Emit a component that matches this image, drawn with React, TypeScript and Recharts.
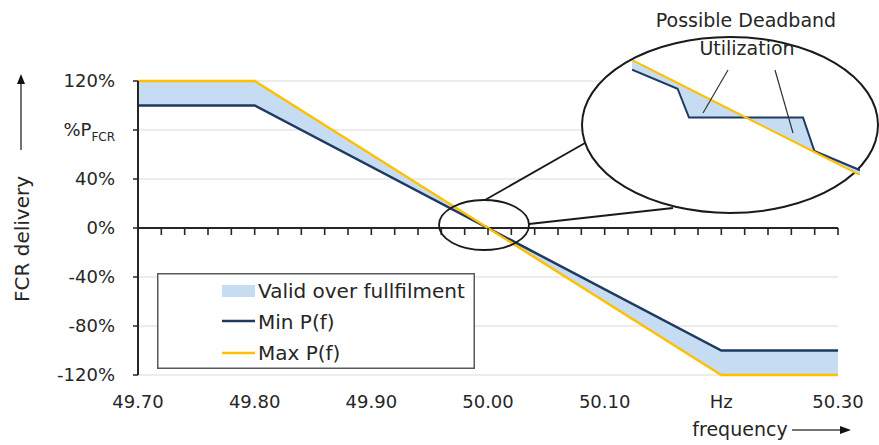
import React from 'react';
import {
  ComposedChart, Line, Area, XAxis, YAxis, CartesianGrid, ReferenceLine,
} from 'recharts';

// main curves: frequency (Hz) -> FCR delivery (% of P_FCR)
const freq = [49.7, 49.8, 50.2, 50.3];
const minP = [100, 100, -100, -100];
const maxP = [120, 120, -120, -120];

// zoomed-in view around 50 Hz (deadband)
const zoomFreq = [49.98, 49.988, 49.99, 50.01, 50.012, 50.02];
const zoomMin = [10, 6, 0, 0, -7, -11];
const zoomMax = [12, 7.2, 6, -6, -7.2, -12];

const xTicks = [49.7, 49.8, 49.9, 50.0, 50.1, 50.2, 50.3];
const yTicks = [-120, -80, -40, 0, 40, 80, 120];
// minor tick marks hanging under the 0% line
const zeroMarks = [
  49.72, 49.74, 49.76, 49.78, 49.8, 49.82, 49.84, 49.86, 49.88, 49.9,
  49.92, 49.94, 49.96, 49.98, 50.0, 50.02, 50.04, 50.06, 50.08, 50.1,
  50.12, 50.14, 50.16, 50.18, 50.2, 50.22, 50.24, 50.26, 50.28, 50.3,
];

const mainData = freq.map((f, i) => ({ f, min: minP[i], max: maxP[i], band: [minP[i], maxP[i]] }));
const zoomData = zoomFreq.map((f, i) => ({ f, min: zoomMin[i], max: zoomMax[i], band: [zoomMin[i], zoomMax[i]] }));

const TXT = '#262626';
const BLUE = '#1F3A60';
const GOLD = '#FFC000';
const FILL = '#C6DCF2';

const YTick = (props: any) => {
  const { x, y, payload } = props;
  if (payload.value === 80) {
    return (
      <text x={x} y={y} dy="0.35em" textAnchor="end" fill={TXT} fontSize={18}>
        %P<tspan fontSize={12} dy={5}>FCR</tspan>
      </text>
    );
  }
  return (
    <text x={x} y={y} dy="0.35em" textAnchor="end" fill={TXT} fontSize={18}>
      {payload.value}%
    </text>
  );
};

const LegendBox = () => (
  <svg width={318} height={96} style={{ position: 'absolute', left: 157, top: 273 }}>
    <rect x={0.75} y={0.75} width={316.5} height={94.5} fill="#fff" stroke="#595959" strokeWidth={1.5} />
    <rect x={65} y={12} width={33} height={12} fill={FILL} />
    <text x={101} y={25} fontSize={20} fill={TXT}>Valid over fullfilment</text>
    <line x1={65} y1={48} x2={98} y2={48} stroke={BLUE} strokeWidth={2.5} />
    <text x={101} y={56} fontSize={20} fill={TXT}>Min P(f)</text>
    <line x1={65} y1={80} x2={98} y2={80} stroke={GOLD} strokeWidth={2.5} />
    <text x={101} y={87} fontSize={20} fill={TXT}>Max P(f)</text>
  </svg>
);

export default function App() {
  return (
    <div style={{ position: 'absolute', left: 0, top: 0, width: 879, height: 445, background: '#fff', fontFamily: 'DejaVu Sans' }}>
      <ComposedChart width={879} height={445} data={mainData} margin={{ top: 81, right: 41, left: 0, bottom: 0 }}>
        <CartesianGrid horizontal vertical={false} stroke="#D9D9D9" />
        <XAxis
          dataKey="f"
          type="number"
          domain={[49.7, 50.3]}
          ticks={xTicks}
          height={70}
          axisLine={false}
          tickLine={false}
          tickMargin={14}
          tick={{ fill: TXT, fontSize: 18 }}
          tickFormatter={(v: number) => (Math.abs(v - 50.2) < 1e-6 ? 'Hz' : v.toFixed(2))}
          interval={0}
        />
        <YAxis
          type="number"
          domain={[-120, 120]}
          ticks={yTicks}
          width={138}
          axisLine={{ stroke: TXT, strokeWidth: 2 }}
          tickLine={{ stroke: TXT, strokeWidth: 1.5 }}
          tickSize={5}
          tickMargin={18}
          tick={<YTick />}
          interval={0}
        />
        <ReferenceLine y={0} stroke={TXT} strokeWidth={2} />
        <Area dataKey="band" type="linear" stroke="none" fill={FILL} fillOpacity={1} isAnimationActive={false} />
        <Line dataKey="min" type="linear" stroke={BLUE} strokeWidth={2.5} dot={false} isAnimationActive={false} />
        <Line dataKey="max" type="linear" stroke={GOLD} strokeWidth={2.5} dot={false} isAnimationActive={false} />
      </ComposedChart>

      {/* minor ticks of the 0% axis: an x axis whose baseline sits on y = 0 of the main plot (81 + 147 = 228) */}
      <div style={{ position: 'absolute', left: 0, top: 0, pointerEvents: 'none' }}>
        <ComposedChart width={879} height={260} data={mainData} margin={{ top: 0, right: 41, left: 138, bottom: 0 }}>
          <XAxis
            dataKey="f"
            type="number"
            domain={[49.7, 50.3]}
            ticks={zeroMarks}
            interval={0}
            height={32}
            axisLine={false}
            tickLine={{ stroke: TXT, strokeWidth: 1.6 }}
            tickSize={7}
            tick={{ fill: 'transparent', fontSize: 1 }}
            tickFormatter={() => ''}
          />
          <YAxis type="number" domain={[-120, 120]} hide />
          <Line dataKey="min" stroke="none" dot={false} isAnimationActive={false} />
        </ComposedChart>
      </div>

      <LegendBox />

      <svg width={879} height={445} style={{ position: 'absolute', left: 0, top: 0, pointerEvents: 'none' }}>
        <ellipse cx={730} cy={125} rx={148} ry={88} fill="#fff" stroke="#1a1a1a" strokeWidth={2} />
        <ellipse cx={484} cy={225} rx={45} ry={25} fill="none" stroke="#1a1a1a" strokeWidth={1.8} />
        <line x1={485} y1={200} x2={585} y2={143} stroke="#1a1a1a" strokeWidth={1.8} />
        <line x1={529} y1={224} x2={673} y2={208} stroke="#1a1a1a" strokeWidth={1.8} />
        <text transform="translate(29,239) rotate(-90)" textAnchor="middle" fontSize={20} fill={TXT}>FCR delivery</text>
        <line x1={21} y1={150} x2={21} y2={82} stroke="#444" strokeWidth={1.5} />
        <path d="M21 74 L17 84 L25 84 Z" fill="#111" />
        <text x={740} y={436} textAnchor="middle" fontSize={19} fill={TXT}>frequency</text>
        <line x1={792} y1={430} x2={842} y2={430} stroke="#444" strokeWidth={1.5} />
        <path d="M851 430 L840 426 L840 434 Z" fill="#111" />
      </svg>

      <div style={{ position: 'absolute', left: 632, top: 60 }}>
        <ComposedChart width={228} height={115} data={zoomData} margin={{ top: 0, right: 0, left: 0, bottom: 0 }}>
          <XAxis dataKey="f" type="number" domain={[49.98, 50.02]} hide />
          <YAxis type="number" domain={[-12, 12]} hide />
          <Area dataKey="band" type="linear" stroke="none" fill={FILL} fillOpacity={1} isAnimationActive={false} />
          <Line dataKey="min" type="linear" stroke={BLUE} strokeWidth={2} dot={false} isAnimationActive={false} />
          <Line dataKey="max" type="linear" stroke={GOLD} strokeWidth={2} dot={false} isAnimationActive={false} />
        </ComposedChart>
      </div>

      <svg width={879} height={445} style={{ position: 'absolute', left: 0, top: 0, pointerEvents: 'none' }}>
        <line x1={728} y1={70} x2={703} y2={113} stroke="#333" strokeWidth={1.2} />
        <line x1={775} y1={70} x2={793} y2={133} stroke="#333" strokeWidth={1.2} />
        <text x={746} y={27} textAnchor="middle" fontSize={19} fill={TXT}>Possible Deadband</text>
        <text x={747} y={55} textAnchor="middle" fontSize={19} fill={TXT}>Utilization</text>
      </svg>
    </div>
  );
}
